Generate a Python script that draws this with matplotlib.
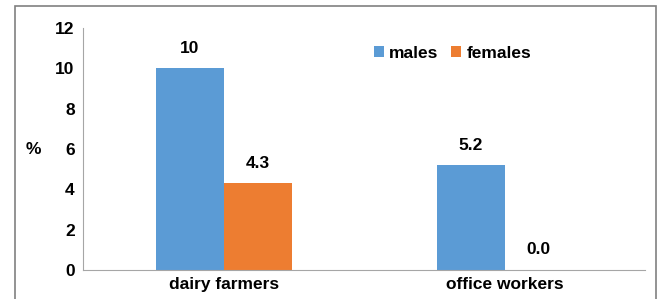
import matplotlib
matplotlib.use("Agg")
import matplotlib.pyplot as plt
import numpy as np
from matplotlib.patches import Rectangle

categories = ["dairy farmers", "office workers"]
males = [10.0, 5.2]
females = [4.3, 0.0]
male_labels = ["10", "5.2"]
female_labels = ["4.3", "0.0"]

blue = "#5B9BD5"
orange = "#ED7D31"
fs = 12.5

plt.rcParams["font.family"] = ["Liberation Sans", "DejaVu Sans"]
plt.rcParams["font.weight"] = "bold"

fig = plt.figure(figsize=(6.59, 2.99), dpi=100)
ax = fig.add_axes([0.126, 0.097, 0.853, 0.809])

x = np.arange(len(categories))
w = 0.242
b1 = ax.bar(x - w / 2, males, w, color=blue, label="males")
b2 = ax.bar(x + w / 2, females, w, color=orange, label="females")

for bars, labs in ((b1, male_labels), (b2, female_labels)):
    for rect, lab in zip(bars, labs):
        ax.annotate(lab, (rect.get_x() + rect.get_width() / 2, rect.get_height()),
                    xytext=(0, 14.5), textcoords="offset points",
                    ha="center", va="center", fontsize=fs, fontweight="bold")

ax.set_xlim(-0.5, 1.5)
ax.set_ylim(0, 12)
ax.set_yticks(range(0, 13, 2))
ax.set_xticks(x)
ax.set_xticklabels(categories, fontsize=fs, fontweight="bold")
ax.tick_params(axis="y", length=0, pad=6, labelsize=fs)
ax.tick_params(axis="x", length=0, pad=5)

for s in ("top", "right"):
    ax.spines[s].set_visible(False)
ax.spines["left"].set_color("#A6A6A6")
ax.spines["bottom"].set_color("#A6A6A6")

ax.text(-0.089, 0.5, "%", transform=ax.transAxes, fontsize=fs,
        fontweight="bold", ha="center", va="center")

ax.legend(loc="center", bbox_to_anchor=(0.657, 0.897), frameon=False,
          ncol=2, fontsize=fs, handlelength=0.6, handleheight=0.6,
          handletextpad=0.3, columnspacing=0.7, borderaxespad=0)

fig.patches.append(Rectangle((15 / 659, -0.1), 641 / 659, 1.1 - 6 / 299,
                             transform=fig.transFigure, fill=False,
                             edgecolor="#808080", linewidth=1.2))

fig.savefig("out.png", dpi=100)
